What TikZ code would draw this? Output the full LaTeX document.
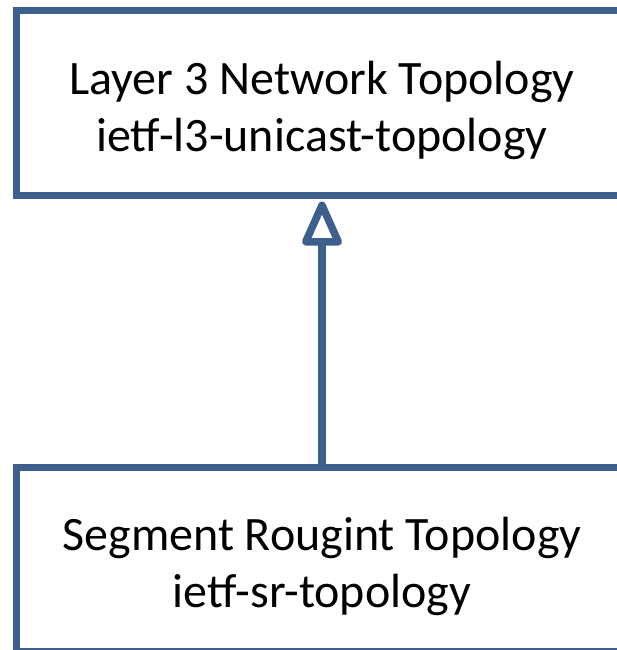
\documentclass[tikz,border=0pt]{standalone}
\usepackage{fontspec}
\setmainfont{Carlito}
\usepackage{tikz}
\usetikzlibrary{positioning}
\usetikzlibrary{arrows.meta}

\definecolor{ModuleBlue}{RGB}{61,95,140}

\tikzset{
	module/.style={rectangle, draw=ModuleBlue, line width=7pt,
		minimum width=611pt, minimum height=184pt, inner sep=0pt},
	modtext/.style={align=center, inner sep=0pt, font=\fontsize{48}{57}\selectfont},
	augments/.style={draw=ModuleBlue, line width=7.5pt,
		-{Triangle[open, round, length=50pt, width=42pt]}, shorten >=3pt},
}

\begin{document}
\begin{tikzpicture}
		
		% ---------------------
		% Proper size --- Bounding box
		\useasboundingbox (0pt,0pt) rectangle (617pt,-650pt);
		\clip (0pt,0pt) rectangle (617pt,-650pt);
		
		% ---------------------
		% Modules
		
		\node[module] (L3) at (322pt,-103pt) {};
		\node[module, below=265pt of L3] (SR) {};
		
		\node[modtext] (L3name) at ([yshift=-7pt]L3.center) {Layer 3 Network Topology\\ietf-l3-unicast-topology};
		\node[modtext] (SRname) at ([yshift=-7pt]SR.center) {Segment Rougint Topology\\ietf-sr-topology};
		
		% ---------------------
		% SR augments L3
		\draw[augments] (SR.north) -- (L3.south);
		
\end{tikzpicture}
\end{document}
